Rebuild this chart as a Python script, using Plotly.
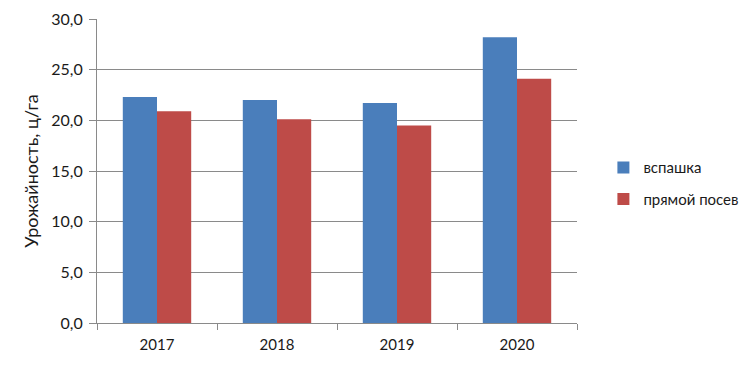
import plotly.graph_objects as go

years = ["2017", "2018", "2019", "2020"]
plowing = [22.3, 22.0, 21.7, 28.2]
direct_sowing = [20.9, 20.1, 19.5, 24.1]
series_names = ["вспашка", "прямой посев"]
y_ticks = [0, 5, 10, 15, 20, 25, 30]

fig = go.Figure()
fig.add_trace(go.Bar(x=years, y=plowing, name=series_names[0], legendgroup="a",
                     marker=dict(color="#4A7EBB", line=dict(width=0))))
fig.add_trace(go.Bar(x=years, y=direct_sowing, name=series_names[1], legendgroup="b",
                     marker=dict(color="#BE4B48", line=dict(width=0))))

font_family = "Lato, 'Noto Sans', sans-serif"
fig.update_layout(
    width=739, height=361,
    margin=dict(l=89, r=170, t=11, b=46, autoexpand=False),
    plot_bgcolor="white", paper_bgcolor="white",
    barmode="group", bargap=0.43, bargroupgap=0,
    separators=", ",
    font=dict(family=font_family, size=14, color="#1a1a1a"),
    legend=dict(x=1.055, y=0.46, xanchor="left", yanchor="middle",
                font=dict(size=15, color="#1a1a1a"), tracegroupgap=9,
                itemwidth=30),
    showlegend=True,
)
fig.update_xaxes(
    automargin=False,
    showline=True, linecolor="#8a8a8a", linewidth=1,
    ticks="outside", tickson="boundaries", ticklen=6, tickcolor="#8a8a8a",
    ticklabelstandoff=8,
    tickfont=dict(size=15),
)
fig.update_yaxes(
    automargin=False,
    range=[0, 30], tickvals=y_ticks, tickformat=".1f",
    showline=True, linecolor="#8a8a8a", linewidth=1,
    ticks="outside", ticklen=7, tickcolor="#8a8a8a",
    ticklabelstandoff=3,
    showgrid=True, gridcolor="#8a8a8a", gridwidth=1,
    zeroline=False,
    tickfont=dict(size=16),
    title=dict(text="Урожайность, ц/га", font=dict(size=18), standoff=8),
)

fig.write_html("out.html")
